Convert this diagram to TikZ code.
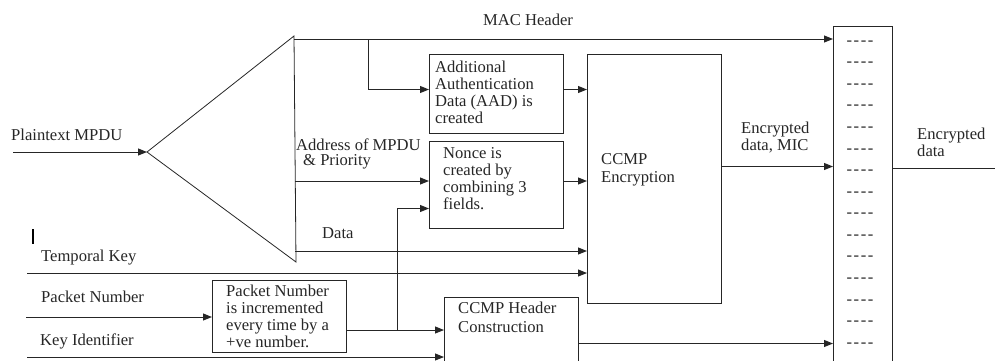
\documentclass[tikz,border=0pt]{standalone}
\usepackage{fontspec}
\setmainfont{Liberation Serif}
\usetikzlibrary{arrows.meta}
\begin{document}
\begin{tikzpicture}[x=1pt,y=-1pt,
  every node/.style={font=\fontsize{16.6}{17}\selectfont, inner sep=0pt, text=black!85},
  wire/.style={line width=1pt, draw=black!85},
  flow/.style={wire, -{Triangle[length=9pt,width=7pt]}},
  block/.style={draw=black!85, line width=1pt, anchor=north west},
  lbl/.style={anchor=base west},
  txt/.style={anchor=north west, align=left},
]
\useasboundingbox (0,0) rectangle (995,360);
\clip (0,0) rectangle (995,360);

% splitter triangle
\coordinate (apex) at (147,152);
\coordinate (ttop) at (294,36);
\coordinate (tbot) at (296,262);
\draw[wire, line width=0.8pt] (apex) -- (ttop) -- (tbot) -- cycle;

% processing blocks
\node[block, minimum width=134pt, minimum height=79pt]  (aad)   at (429,54)  {};
\node[block, minimum width=134pt, minimum height=87pt]  (nonce) at (429,141) {};
\node[block, minimum width=134pt, minimum height=249pt] (enc)   at (587,54)  {};
\node[block, minimum width=134pt, minimum height=72pt]  (pn)    at (212,280) {};
\node[block, minimum width=134pt, minimum height=78pt]  (hdr)   at (444,297) {};
\node[block, minimum width=59pt,  minimum height=349pt] (buf)   at (833,26)  {};

% block texts
\node[txt] (aadtext)   at (435,61)  {Additional\\Authentication\\Data (AAD) is\\created};
\node[txt] (noncetext) at (443,147) {Nonce is\\created by\\combining 3\\fields.};
\node[txt] (enctext)   at (601,153) {CCMP\\[1pt]Encryption};
\node[txt] (hdrtext)   at (458,302) {CCMP Header\\[2pt]Construction};
\node[txt] (pntext)    at (226,285) {Packet Number\\is incremented\\every time by a\\+ve number.};

% frame buffer rows
\foreach \k in {0,...,14}
  \node (row\k) at (860,{43+21.57*\k}) {-\hspace{1.5pt}-\hspace{1.5pt}-\hspace{1.5pt}-};

% signal labels
\node[anchor=base] (maclbl) at (528,25) {MAC Header};
\node[lbl] (ptlbl)   at (11,140)  {Plaintext MPDU};
\node[txt] (addrlbl) at (296,139) {Address of MPDU\\[-2pt]\hspace*{7pt}\& Priority};
\node[lbl] (datalbl) at (322,238) {Data};
\node[lbl] (tklbl)   at (41,261)  {Temporal Key};
\node[lbl] (pnlbl)   at (41,302)  {Packet Number};
\node[lbl] (kilbl)   at (40,345)  {Key Identifier};
\node[txt] (miclbl)  at (741,122) {Encrypted\\data, MIC};
\node[txt] (outlbl)  at (917,128) {Encrypted\\data};

% stray marker
\draw[line width=2.5pt] (33,229) -- (33,244);

% connector end points
\coordinate (src)   at (13,152);
\coordinate (macL)  at (294,39);
\coordinate (tap)   at (368,39);
\coordinate (addrL) at (295,181);
\coordinate (dataL) at (295,251);
\coordinate (tkL)   at (27,273);
\coordinate (pnL)   at (26,317);
\coordinate (kiL)   at (27,357);
\coordinate (split) at (397,330);
\coordinate (outR)  at (995,168);

% connectors
\draw[flow] (src) -- (apex);
\draw[flow] (macL) -- (macL -| buf.west);
\draw[flow] (tap) |- ([yshift=4.5pt]aad.west);
\draw[flow] ([yshift=4.5pt]aad.east) -- ([yshift=4.5pt]aad.east -| enc.west);
\draw[flow] (addrL) -- (addrL -| nonce.west);
\draw[flow] (nonce.east |- addrL) -- (addrL -| enc.west);
\draw[flow] (dataL) -- (dataL -| enc.west);
\draw[flow] (tkL) -- (tkL -| enc.west);
\draw[flow] (pnL) -- (pnL -| pn.west);
\draw[wire] (pn.east |- split) -- (split);
\draw[flow] (split) -- (split -| hdr.west);
\draw[flow] (split) |- ([yshift=-23.5pt]nonce.west);
\draw[flow] (kiL) -- (kiL -| hdr.west);
\draw[flow] ([yshift=-7pt]hdr.east) -- ([yshift=-7pt]hdr.east -| buf.west);
\draw[flow] ([yshift=12.5pt]enc.east) -- ([yshift=12.5pt]enc.east -| buf.west);
\draw[wire] (buf.east |- outR) -- (outR);
\end{tikzpicture}
\end{document}
